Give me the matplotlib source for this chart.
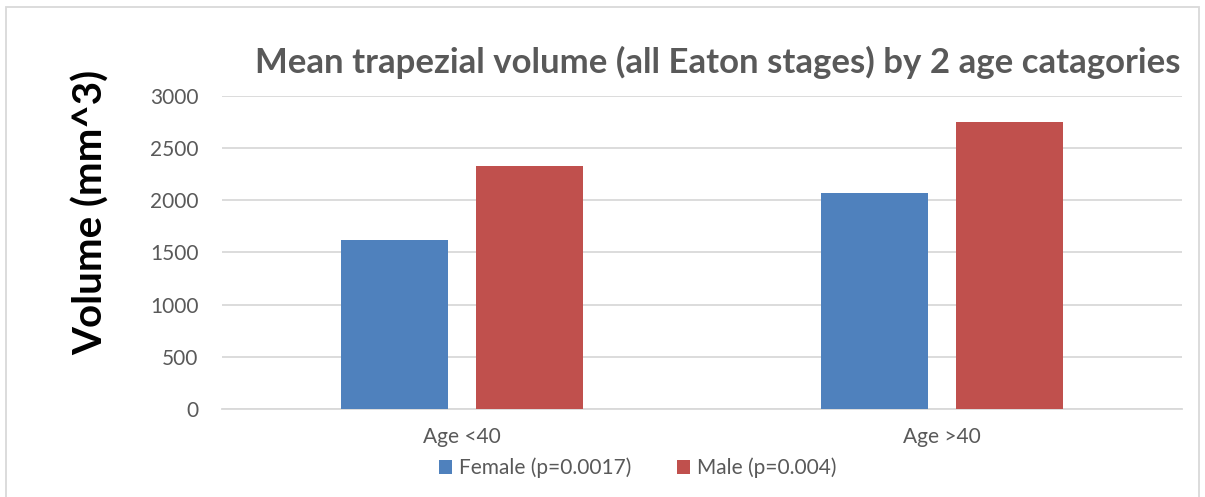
import numpy as np
import matplotlib.pyplot as plt
from matplotlib.patches import Rectangle

categories = ['Age <40', 'Age >40']
female = [1620, 2067]
male = [2332, 2754]
series_labels = ['Female (p=0.0017)', 'Male (p=0.004)']
yticks = [0, 500, 1000, 1500, 2000, 2500, 3000]

BLUE = '#4F81BD'
RED = '#C0504D'
GREY = '#595959'
GRID = '#D9D9D9'

plt.rcParams['font.family'] = ['Lato', 'DejaVu Sans']

fig = plt.figure(figsize=(12.05, 4.97), dpi=100)
ax = fig.add_axes([0.1842, 0.177, 0.7967, 0.630])

x = np.arange(len(categories))
width = 0.223
offset = width / 2 + 0.03
b1 = ax.bar(x - offset, female, width, color=BLUE, label=series_labels[0], zorder=3)
b2 = ax.bar(x + offset, male, width, color=RED, label=series_labels[1], zorder=3)

ax.set_xlim(-0.5, 1.5)
ax.set_ylim(0, 3000)
ax.set_yticks(yticks)
ax.set_yticklabels([str(t) for t in yticks])
ax.set_xticks(x)
ax.set_xticklabels(categories)
ax.tick_params(axis='y', length=0, pad=17, labelsize=15, labelcolor=GREY)
ax.tick_params(axis='x', length=0, pad=13, labelsize=15, labelcolor=GREY)
ax.grid(axis='y', color=GRID, linewidth=1.3, zorder=0)
for s in ['top', 'right', 'left']:
    ax.spines[s].set_visible(False)
ax.spines['bottom'].set_color(GRID)
ax.spines['bottom'].set_linewidth(1.3)

fig.text(0.596, 0.875, 'Mean trapezial volume (all Eaton stages) by 2 age catagories',
         ha='center', va='center', fontsize=25, fontweight='bold', color=GREY)
fig.text(0.075, 0.573, 'Volume (mm^3)', ha='center', va='center', rotation=90,
         fontsize=29, fontweight='bold', color='black')

fig.legend(handles=[b1, b2], labels=series_labels, loc='center', bbox_to_anchor=(0.529, 0.058),
           ncol=2, frameon=False, fontsize=15, labelcolor=GREY, handlelength=0.65,
           handleheight=0.65, handletextpad=0.3, columnspacing=2.2)

# thin chart-area border
fig.patches.append(Rectangle((0.005, -0.01), 0.99, 0.995, transform=fig.transFigure,
                             fill=False, edgecolor=GRID, linewidth=1.3))

fig.savefig('out.png', dpi=100)
